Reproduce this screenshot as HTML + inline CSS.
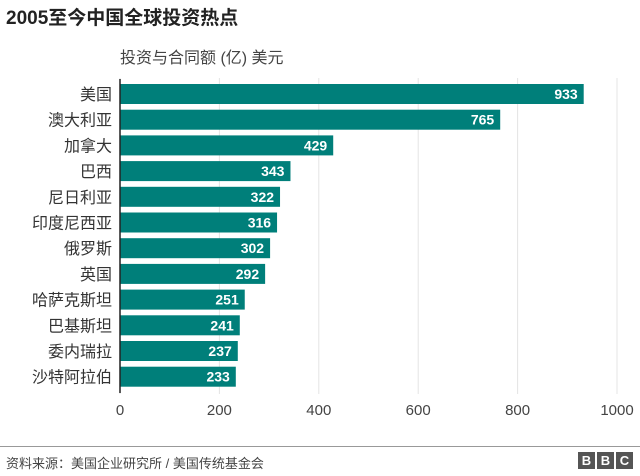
<!DOCTYPE html>
<html><head><meta charset="utf-8"><style>
body{margin:0;width:640px;height:476px;background:#fff;font-family:"Liberation Sans","Noto Sans CJK SC",sans-serif;overflow:hidden;position:relative}
</style></head><body>
<div style="position:absolute;left:6px;top:3px;font-size:19px;font-weight:bold;color:#222">2005至今中国全球投资热点</div>
<svg id="c" width="640" height="476" style="position:absolute;left:0;top:0"></svg>
<div style="position:absolute;left:0;top:446px;width:640px;height:1px;background:#999"></div>
<div style="position:absolute;left:6px;top:453px;font-size:13px;color:#444">资料来源：美国企业研究所 / 美国传统基金会</div>
<div style="position:absolute;left:578px;top:452px;display:flex;gap:2px">
<span style="width:17px;height:17px;background:#555;color:#fff;font-weight:bold;font-size:13px;text-align:center;line-height:17px">B</span>
<span style="width:17px;height:17px;background:#555;color:#fff;font-weight:bold;font-size:13px;text-align:center;line-height:17px">B</span>
<span style="width:17px;height:17px;background:#555;color:#fff;font-weight:bold;font-size:13px;text-align:center;line-height:17px">C</span>
</div>
<script>
const categories=["美国","澳大利亚","加拿大","巴西","尼日利亚","印度尼西亚","俄罗斯","英国","哈萨克斯坦","巴基斯坦","委内瑞拉","沙特阿拉伯"];
const values=[933,765,429,343,322,316,302,292,251,241,237,233];
const ticks=[0,200,400,600,800,1000];
const svg=document.getElementById('c');
const NS='http://www.w3.org/2000/svg';
const x=v=>120+v*0.497;
const y=i=>84+i*25.7;
function mk(t,a){const e=document.createElementNS(NS,t);for(const k in a)e.setAttribute(k,a[k]);svg.appendChild(e);return e;}
const sub=mk('text',{x:120,y:63,'font-size':16,fill:'#444'});sub.textContent='投资与合同额 (亿) 美元';


ticks.forEach(t=>{
 const g=mk('line',{x1:x(t),x2:x(t),y1:78,y2:394,stroke:'#e4e4e4','stroke-width':1});
 
 
 const l=mk('text',{x:x(t),y:415,'font-size':15,fill:'#444','text-anchor':'middle'});l.textContent=t;
 
 
});
categories.forEach((c,i)=>{
 const r=mk('rect',{x:x(0),y:y(i),width:x(values[i])-x(0),height:20,fill:'#007f7a'});
 
 
 const v=mk('text',{x:x(values[i])-6,y:y(i)+15,'font-size':14,'font-weight':'bold',fill:'#fff','text-anchor':'end'});v.textContent=values[i];
 
 
 const l=mk('text',{x:112,y:y(i)+16,'font-size':16,fill:'#333','text-anchor':'end'});l.textContent=c;
 
 
});
const ax=mk('line',{x1:120,x2:120,y1:79,y2:393,stroke:'#222','stroke-width':1.5});


</script>
</body></html>
